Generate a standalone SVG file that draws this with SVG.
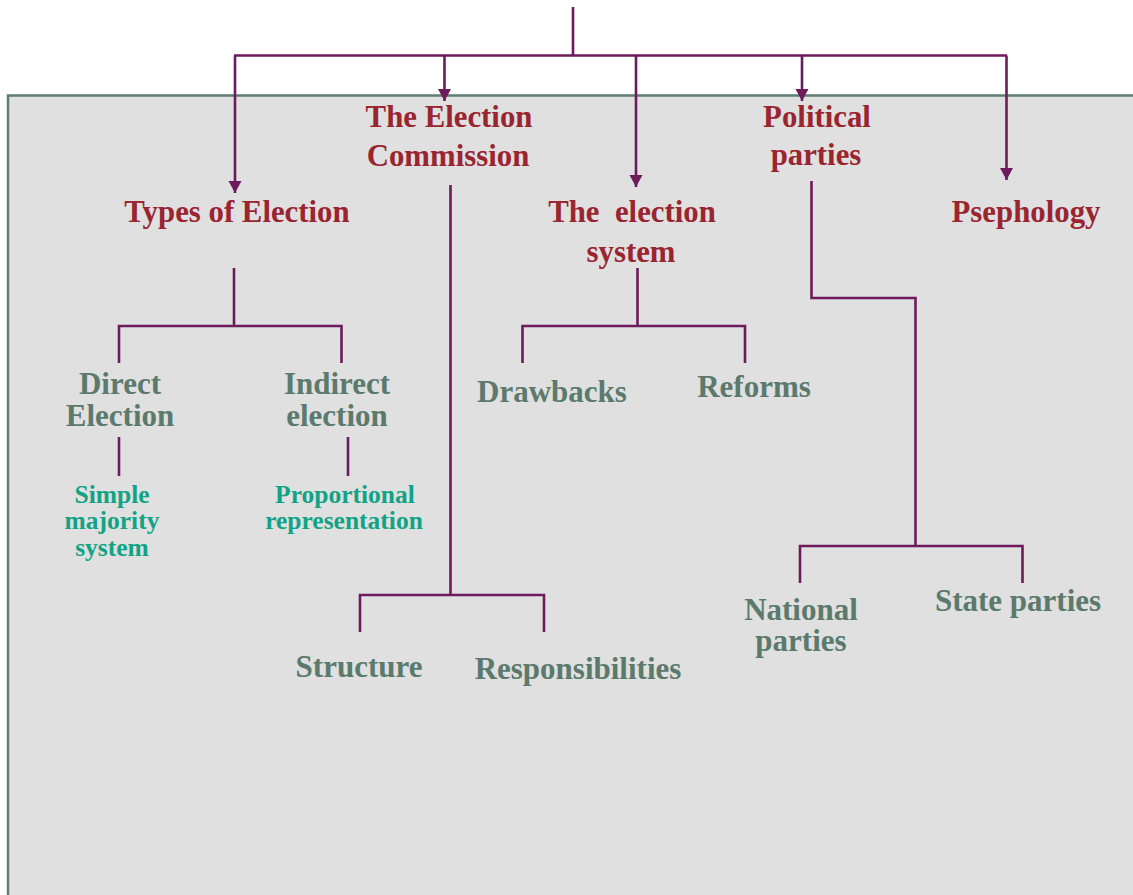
<svg xmlns="http://www.w3.org/2000/svg" width="1133" height="895" viewBox="0 0 1133 895">
<defs>
<style>
.ln{fill:none;stroke:#6d1b5c;stroke-width:2.6}
.t1{font-family:"Liberation Serif","Times New Roman",serif;font-weight:bold;font-size:30.8px;fill:#9a2530;text-anchor:middle}
.t2{font-family:"Liberation Serif","Times New Roman",serif;font-weight:bold;font-size:31px;fill:#5b7a6d;text-anchor:middle}
.t3{font-family:"Liberation Serif","Times New Roman",serif;font-weight:bold;font-size:25.5px;fill:#12a386;text-anchor:middle}
</style>
<marker id="ah" viewBox="0 -7 12 14" refX="12" refY="0" markerWidth="12" markerHeight="14" markerUnits="userSpaceOnUse" orient="auto">
<path d="M0,-6.5 L12,0 L0,6.5 z" fill="#6d1b5c"/>
</marker>
</defs>
<rect x="0" y="0" width="1133" height="895" fill="#ffffff"/>
<rect id="panel" x="8" y="95.5" width="1140" height="820" fill="#dfe0df" stroke="#5f7d70" stroke-width="2.5"/>
<g id="connectors">
<path class="ln" d="M573,7 V55.5 M234,55.5 H1007"/>
<path class="ln" d="M235,55.5 V193" marker-end="url(#ah)"/>
<path class="ln" d="M444.5,55.5 V101" marker-end="url(#ah)"/>
<path class="ln" d="M636,55.5 V187" marker-end="url(#ah)"/>
<path class="ln" d="M802,55.5 V101" marker-end="url(#ah)"/>
<path class="ln" d="M1006.5,55.5 V180" marker-end="url(#ah)"/>
<path class="ln" d="M234,268 V326 M119,363 V326 H341.5 V363"/>
<path class="ln" d="M119,437 V476 M348,437 V476"/>
<path class="ln" d="M450.5,185 V595 M360,632 V595 H544 V632"/>
<path class="ln" d="M637.5,268 V326 M522.5,363 V326 H745 V363"/>
<path class="ln" d="M811.5,181 V298 H915.5 V546 M800,583 V546 H1022.5 V583"/>
</g>
<g id="types"><text class="t1" x="237" y="222">Types of Election</text></g>
<g id="commission"><text class="t1" x="449" y="127">The Election</text><text class="t1" x="448" y="166">Commission</text></g>
<g id="system"><text class="t1" x="632" y="222" xml:space="preserve">The  election</text><text class="t1" x="631" y="262">system</text></g>
<g id="political"><text class="t1" x="817" y="127">Political</text><text class="t1" x="816" y="165">parties</text></g>
<g id="psephology"><text class="t1" x="1026" y="222">Psephology</text></g>
<g id="direct"><text class="t2" x="120" y="394">Direct</text><text class="t2" x="120" y="426">Election</text></g>
<g id="indirect"><text class="t2" x="337" y="394">Indirect</text><text class="t2" x="337" y="426">election</text></g>
<g id="simple"><text class="t3" x="112" y="503">Simple</text><text class="t3" x="112" y="529">majority</text><text class="t3" x="112" y="556">system</text></g>
<g id="proportional"><text class="t3" x="345" y="503">Proportional</text><text class="t3" x="344" y="529">representation</text></g>
<g id="drawbacks"><text class="t2" x="552" y="402">Drawbacks</text></g>
<g id="reforms"><text class="t2" x="754" y="397">Reforms</text></g>
<g id="structure"><text class="t2" x="359" y="677">Structure</text></g>
<g id="responsibilities"><text class="t2" x="578" y="679">Responsibilities</text></g>
<g id="national"><text class="t2" x="801" y="620">National</text><text class="t2" x="801" y="651">parties</text></g>
<g id="state"><text class="t2" x="1018" y="611">State parties</text></g>
</svg>
